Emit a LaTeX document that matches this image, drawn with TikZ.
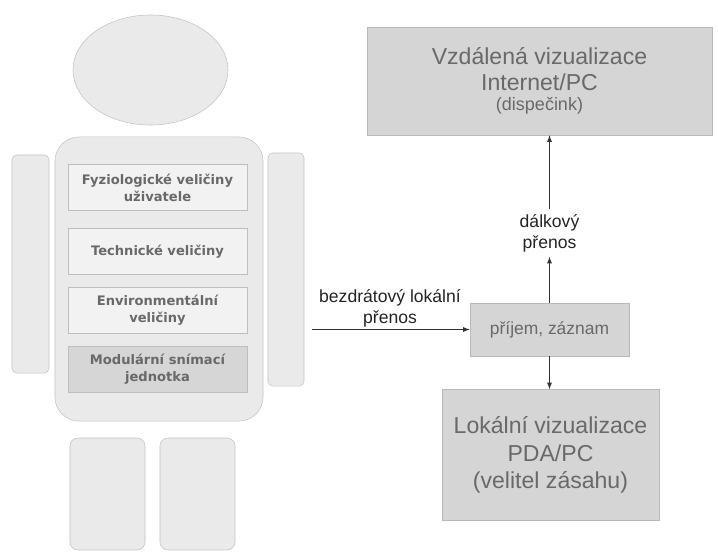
\documentclass[tikz,border=0pt]{standalone}
\usepackage{fontspec}
\setmainfont{Liberation Sans}
\newfontfamily\bodyfont{DejaVu Sans}
\usetikzlibrary{shapes.geometric}
\newcommand{\bodyboxfont}{\bodyfont\bfseries\fontsize{9.3}{12}\selectfont}
\newcommand{\vizfont}{\fontsize{16.4}{19.5}\selectfont}

\begin{document}
\begin{tikzpicture}[x=0.025cm, y=-0.025cm, >=latex,
  every node/.style={font=\fontsize{12.5}{15}\selectfont},
  limb/.style={draw=limbline, fill=limbfill, inner sep=0pt},
  inbox/.style={draw=inline, fill=infill, minimum width=4.475cm, minimum height=1.15cm,
    align=center, text=boxtext, font=\bodyboxfont, inner sep=0pt},
  vizbox/.style={draw=vizline, fill=vizfill, text=boxtext, align=center, inner sep=0pt},
  linklabel/.style={align=center, text=labeltext},
  link/.style={->, draw=linkcol, semithick}]
\definecolor{limbfill}{RGB}{234,234,234}
\definecolor{limbline}{RGB}{196,196,196}
\definecolor{infill}{RGB}{242,242,242}
\definecolor{inline}{RGB}{190,190,190}
\definecolor{modfill}{RGB}{214,214,214}
\definecolor{vizfill}{RGB}{213,213,213}
\definecolor{vizline}{RGB}{185,185,185}
\definecolor{boxtext}{RGB}{105,105,105}
\definecolor{labeltext}{RGB}{35,35,35}
\definecolor{linkcol}{RGB}{50,50,50}
\useasboundingbox (0,0) rectangle (718,553);
% Figure: head, torso, arms, legs
\node[ellipse, limb, minimum width=3.875cm, minimum height=2.75cm] (head) at (150.5,70) {};
\node[limb, rounded corners=0.6cm, minimum width=5.2cm, minimum height=7.1cm] (torso) at (159,279) {};
\node[limb, rounded corners=0.12cm, minimum width=0.925cm, minimum height=5.45cm] (larm) at (30.5,264) {};
\node[limb, rounded corners=0.12cm, minimum width=0.9cm, minimum height=5.825cm] (rarm) at (286,269.5) {};
\node[limb, rounded corners=0.2cm, minimum width=1.875cm, minimum height=2.8cm] (lleg) at (107.5,494) {};
\node[limb, rounded corners=0.2cm, minimum width=1.875cm, minimum height=2.8cm] (rleg) at (197.5,494) {};
% Measured quantities inside the torso
\foreach \nm/\y/\txt in {
  fyz/187.5/{Fyziologické veličiny\\uživatele},
  tech/251.5/{Technické veličiny},
  env/310.5/{Environmentální\\veličiny}%
} {
  \node[inbox] (\nm) at (157.5,\y) {\txt};
}
\node[inbox, fill=modfill] (modul) at (157.5,369.5) {Modulární snímací\\jednotka};
% Receiver and visualisation
\node[vizbox, minimum width=3.975cm, minimum height=1.325cm, font=\fontsize{12.4}{15}\selectfont] (prijem) at (549.5,329.5) {příjem, záznam};
\node[vizbox, minimum width=8.625cm, minimum height=2.7cm, font=\fontsize{16.4}{18}\selectfont] (vzdalena) at (539.5,81)
  {Vzdálená vizualizace\\Internet/PC\\[-3.5pt]{\fontsize{12.8}{15}\selectfont (dispečink)}};
\node[vizbox, minimum width=5.425cm, minimum height=3.275cm, font=\vizfont] (lokalni) at (550.5,455)
  {Lokální vizualizace\\PDA/PC\\(velitel zásahu)};
% Transmission links
\coordinate (armout) at (312,329.5);
\node[linklabel] (bezdr) at (390,308) {bezdrátový lokální\\přenos};
\node[linklabel] (dalkovy) at (549.5,233) {dálkový\\přenos};
\draw[link] (armout) -- (prijem.west);
\draw[link] (prijem) -- (dalkovy);
\draw[link] (dalkovy) -- (vzdalena.south -| dalkovy);
\draw[link] (prijem) -- (lokalni.north -| prijem);
\end{tikzpicture}
\end{document}
